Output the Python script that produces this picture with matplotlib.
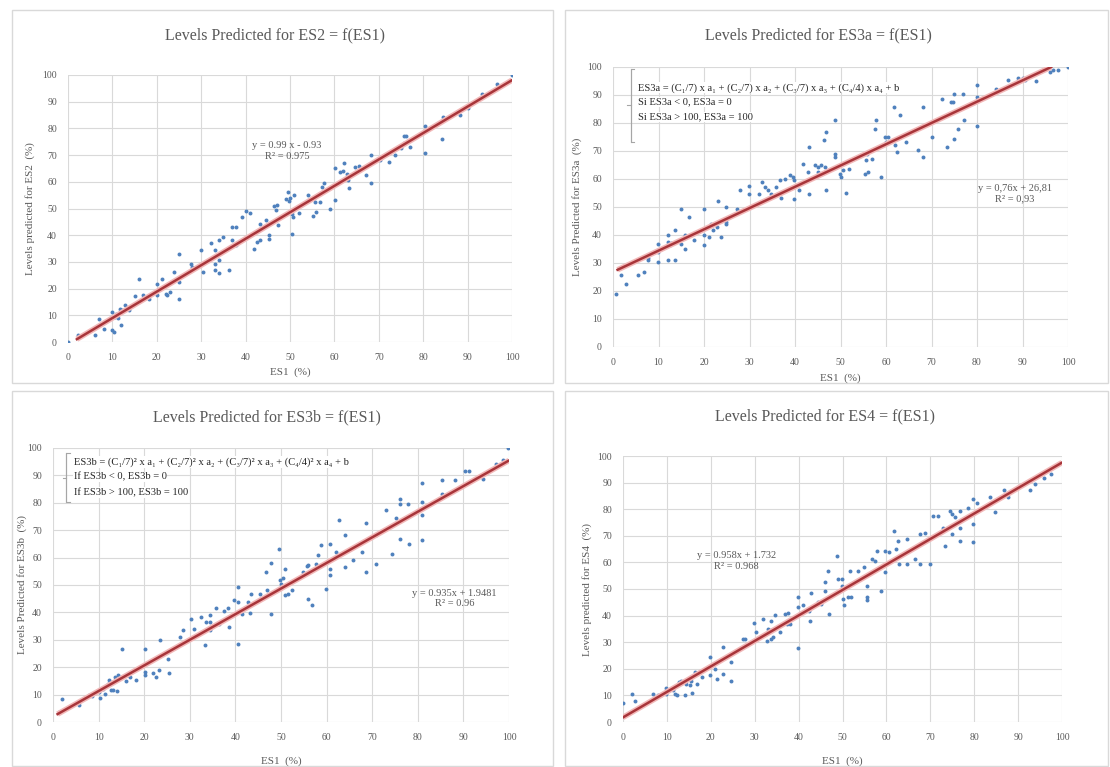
import matplotlib
matplotlib.use("Agg")
from matplotlib import pyplot as plt
from matplotlib.patches import Rectangle

plt.rcParams['font.family'] = ['Liberation Serif', 'DejaVu Serif']

# ---- data ----
es2_x = [0, 2.2, 6, 6.9, 8, 10, 10, 10.3, 10.5, 10.8, 11.2, 11.8, 12.2, 12, 12.9, 13.7, 15, 16.1,
         17, 18.2, 20, 20, 21.2, 22, 22.3, 23, 23.8, 24.9, 25, 25, 27.8, 28, 30, 30.5, 32.2, 33.2,
         33.2, 33.2, 34.1, 34.1, 34.1, 35, 36.2, 36.9, 37.9, 36.9, 37.9, 39.2, 40.2, 40.9, 40.3, 42,
         42.6, 43.2, 43.2, 44.5, 45.2, 45.2, 46.5, 47, 46.9, 47.2, 49.2, 50.1, 50.8, 49.5, 49.7, 50.5,
         50.7, 50.5, 52, 54, 55.1, 55.3, 55.7, 55.9, 56.8, 57.2, 57.7, 59.1, 60.2, 60.2, 61.3, 62,
         62.2, 62.8, 63, 63.2, 64.7, 65.5, 67.2, 68.2, 68.2, 70.3, 72.2, 73.7, 74.5, 75.1, 75.6, 76.2,
         75.6, 77.1, 80.3, 80.3, 84.2, 84.4, 88.4, 90.2, 93.2, 96.6, 98.1, 100]
es2_y = [0, 2.75, 2.75, 8.75, 5, 11.25, 4.4, 3.75, 9.5, 10.5, 9, 12.5, 11.9, 6.25, 13.75, 11.9, 17.25,
         23.75, 17.5, 16.25, 21.9, 17.5, 23.75, 18, 17.5, 18.75, 26.25, 33.1, 16.25, 22.5, 29.4, 28.1,
         34.6, 26.25, 37.1, 29.4, 34.4, 26.9, 26, 38.1, 30.6, 39.4, 26.9, 43.1, 43.1, 38.1, 36.25, 46.9,
         49.1, 48.4, 39.4, 35, 37.5, 38.1, 44.1, 45.6, 40, 38.75, 50.9, 51.25, 49.4, 43.75, 53.4, 53.75,
         55, 56.25, 52.75, 48.1, 46.9, 40.6, 48.4, 55, 47.1, 53.75, 52.5, 48.75, 52.5, 58.1, 59.6, 50,
         53.1, 65, 63.75, 64, 67.1, 63.1, 60.6, 57.5, 65.6, 65.9, 62.5, 59.6, 70, 68.1, 67.5, 70, 73.1,
         72.5, 77.25, 77.25, 74.4, 73.1, 80.9, 70.9, 75.9, 84.4, 85, 87.5, 92.75, 96.6, 96.6, 100]

es3a_x = [0.7, 1.8, 2.9, 5.6, 6.8, 7.7, 7.8, 9.9, 9.9, 9.9, 10.5, 11.4, 12, 12.5, 12.7, 12, 12.1, 13.7,
          13.7, 14.9, 15, 15.8, 15.9, 16.6, 17.8, 19.9, 19.9, 20, 21, 21.6, 22, 23.1, 22.9, 23.8, 24.9,
          24.9, 24.9, 27.3, 28, 29.9, 29.9, 32, 32.7, 33.3, 34, 34.7, 35.9, 37, 36.8, 37.7, 39, 39.6,
          39.8, 39.8, 40.8, 41.8, 43, 42.9, 43.1, 44.3, 45, 45.8, 46.5, 45, 46.4, 46.9, 46.9, 48.9, 48.9,
          48.9, 49.8, 50.2, 50.5, 51.1, 51.8, 54.6, 55.3, 56, 55.7, 55.9, 57, 57.5, 57.9, 59, 59.7, 60.4,
          60.1, 61.8, 61.9, 62.5, 63, 64.5, 67, 68.1, 68.1, 70, 72.2, 73.5, 74.2, 74.7, 74.9, 75, 75.9,
          76.9, 77.1, 80, 80, 80, 84.2, 86.8, 89, 90.1, 90.5, 93, 96, 96.7, 97.8, 100]
es3a_y = [19, 25.6, 22.4, 25.6, 26.8, 31, 31.9, 36.9, 33.9, 30.4, 35.1, 35.7, 37.5, 36.3, 37.1, 39.9, 31,
          41.7, 31, 49.4, 36.9, 35.1, 39.9, 46.4, 38.3, 49.4, 36.3, 39.9, 39.3, 43.8, 41.7, 52.1, 42.9,
          39.3, 50, 44.6, 43.8, 49.4, 56, 57.4, 54.8, 54.8, 58.9, 57.1, 56, 54.8, 57.1, 53.3, 59.5, 60.1,
          61.3, 60.7, 59.5, 53, 56, 65.5, 71.4, 62.5, 54.8, 64.9, 64.3, 64.9, 64.3, 62.5, 73.8, 76.8, 56,
          81, 67.9, 68.8, 61.9, 60.7, 63.1, 55, 63.7, 68.5, 61.9, 62.5, 66.7, 69, 67.3, 78, 81, 60.7, 75,
          75, 73.2, 85.7, 72, 69.6, 82.7, 73.2, 70.2, 85.7, 67.9, 75, 88.7, 71.4, 87.5, 87.5, 90.5, 74.4,
          78, 90.5, 81, 93.5, 89.3, 78.8, 92.3, 95.2, 96.2, 96.2, 95.2, 95, 98.2, 98.8, 98.8, 100]

es3b_x = [1.3, 2, 5.8, 8, 8.6, 10.1, 10.2, 11, 11.3, 12.1, 12.3, 12.8, 13.2, 13.5, 14.3, 14, 15.2, 15,
          15.9, 16.4, 16.8, 18.3, 20.2, 20.2, 20.2, 21.9, 22.5, 23.2, 23.4, 25.2, 25.4, 27.9, 28.4, 30.3,
          30.9, 32.4, 33.4, 33.5, 34.4, 34.5, 34.4, 35.7, 36.5, 37.6, 38.4, 38.6, 39.8, 40.6, 40.5, 40.5,
          41.5, 42.8, 43.5, 43.1, 45.3, 46.8, 46.9, 47.7, 47.7, 49.6, 49.7, 50.1, 50.4, 50.8, 50.8, 51.5,
          52.5, 54.8, 55.6, 56, 55.9, 56.7, 57.7, 58.1, 58.8, 59.8, 60.7, 60.7, 60.7, 62.1, 62.8, 64, 64,
          65.8, 67.8, 68.7, 68.7, 70.9, 70.9, 73.1, 74.4, 75.3, 76, 76, 76, 77.9, 78.1, 81, 81, 81, 81,
          85.2, 85.2, 88.1, 90.3, 91.2, 94.3, 97.2, 98.7, 99.8]
es3b_y = [3.6, 8.5, 6.1, 9.7, 9.4, 10.9, 8.9, 12.2, 10.3, 14, 15.2, 11.6, 11.8, 16.4, 17, 11.3, 26.5,
          16.4, 14.8, 17, 16.4, 15.2, 26.5, 18.2, 17, 17.9, 16.4, 18.9, 29.8, 23.1, 17.9, 31, 33.5, 37.7,
          34.1, 38.3, 28.2, 36.5, 36.5, 38.9, 33.5, 41.7, 35.9, 40.6, 41.7, 34.7, 44.6, 43.8, 49.3, 28.6,
          39.5, 43.8, 46.8, 39.8, 46.8, 54.7, 48.1, 58, 39.5, 63.3, 51.7, 50.5, 52.7, 56, 46.2, 46.8, 48.1,
          54.7, 56.8, 57.2, 45, 42.6, 57.8, 60.8, 64.5, 48.7, 65.1, 56, 53.5, 62, 73.6, 68.1, 56.6, 59, 62,
          72.6, 54.7, 68.1, 57.8, 77.3, 61.4, 74.3, 81.5, 79.7, 66.9, 79.7, 65, 87.3, 80.3, 75.4, 66.3,
          88.2, 83.3, 88.2, 91.6, 91.6, 88.8, 94.3, 95.5, 100]

es4_x = [0, 2.1, 2.8, 6.8, 8, 8.7, 9.9, 10.3, 9.7, 11.4, 11.8, 12.2, 12.7, 13.3, 14.1, 14.4, 15.2, 15.6,
         15.7, 16.3, 16.9, 17.9, 19.8, 19.8, 20.9, 21.4, 22.7, 22.7, 24.7, 24.7, 27.4, 27.9, 29.9, 30.3,
         31.9, 32.9, 33.8, 34.2, 33.1, 33.8, 33.8, 34.6, 35.7, 36.9, 37.6, 37.3, 38, 39.9, 39.9, 39.9,
         41.1, 42.4, 42.6, 42.8, 44.5, 45.2, 46, 46, 46.8, 46.9, 48.7, 48.9, 49.8, 49.8, 50.2, 51.3, 51.9,
         50.3, 51.7, 53.6, 54.8, 55.5, 55.5, 55.5, 56.7, 57.4, 57.8, 58.8, 59.7, 60.5, 59.7, 61.8, 62.3,
         62.7, 62.9, 64.6, 64.6, 66.5, 67.7, 68.7, 67.7, 69.9, 70.7, 71.7, 73, 73.4, 74.5, 74.9, 74.9,
         75.7, 76.8, 76.8, 76.8, 78.7, 79.8, 80.6, 79.8, 79.8, 83.7, 84.8, 86.7, 87.5, 87.8, 92.8, 93.9,
         95.8, 97.6]
es4_y = [7.1, 10.6, 7.9, 10.6, 10, 10, 12.9, 11.9, 10.6, 12.1, 10.6, 10, 15, 15.6, 10, 14.4, 13.8, 15.6,
         10.9, 18.8, 14.4, 16.9, 24.4, 17.5, 20, 16.3, 28.1, 18.1, 22.5, 15.6, 31.3, 31.3, 37.1, 33.8,
         38.8, 30.6, 31.3, 31.9, 35, 34.6, 38.1, 40.4, 33.8, 40.6, 40.9, 36.9, 36.9, 46.9, 43.4, 27.9,
         43.8, 41.9, 38.1, 48.4, 45, 44.4, 49.4, 52.5, 56.9, 40.6, 62.5, 53.8, 53.8, 51.3, 46.3, 46.9,
         46.9, 43.8, 56.9, 56.9, 58.4, 51.3, 46.9, 45.9, 61.3, 60.6, 64.4, 49.4, 64.4, 63.8, 56.3, 71.9,
         65, 68.1, 59.4, 68.8, 59.4, 61.3, 70.6, 70.9, 59.4, 59.4, 77.3, 77.3, 73.1, 66.3, 79.4, 78.1,
         70.6, 76.9, 79.4, 73.1, 68.1, 80.6, 83.8, 82.5, 74.4, 67.8, 84.6, 78.8, 87.1, 85.6, 84.4, 87.1,
         89.4, 91.9, 93.4]

titles = ["Levels Predicted for ES2 = f(ES1)", "Levels Predicted for ES3a = f(ES1)",
          "Levels Predicted for ES3b = f(ES1)", "Levels Predicted for ES4 = f(ES1)"]
ylabels = ["Levels predicted for ES2  (%)", "Levels Predicted for ES3a  (%)",
           "Levels Predicted for ES3b  (%)", "Levels predicted for ES4  (%)"]
slopes = [0.99, 0.76, 0.935, 0.958]
intercepts = [-0.93, 26.81, 1.9481, 1.732]
fit_range = [(2, 100), (1, 96.3), (1, 100), (0, 100)]
eq_labels = ["y = 0.99 x - 0.93\nR² = 0.975", "y = 0,76x + 26,81\nR² = 0,93",
             "y = 0.935x + 1.9481\nR² = 0.96", "y = 0.958x + 1.732\nR² = 0.968"]
eq_pos = [(49.3, 71.5), (88.3, 54.8), (88.1, 45), (25.9, 60.6)]
ticks = list(range(0, 101, 10))

xs = [es2_x, es3a_x, es3b_x, es4_x]
ys = [es2_y, es3a_y, es3b_y, es4_y]

# ---- layout ----
W, H = 1110, 767
fig = plt.figure(figsize=(W / 100, H / 100), dpi=100)

def px_rect(l, t, r, b):
    return [l / W, 1 - b / H, (r - l) / W, (b - t) / H]

axes_px = [(68, 75, 512, 342), (613, 67, 1068, 347), (53, 448, 509, 722), (623, 456, 1062, 722)]
box_px = [(12, 10, 553, 383), (565, 10, 1108, 383), (12, 391, 553, 766), (565, 391, 1108, 766)]
title_px = [(275, 35), (818, 35), (267, 417), (825, 416)]
xlab_px = [372, 378, 761, 761]
ylab_px = [30, 577, 22, 587]

grey = "#595959"
for i in range(4):
    l, t, r, b = box_px[i]
    fig.add_artist(Rectangle((l / W, 1 - b / H), (r - l) / W, (b - t) / H, transform=fig.transFigure,
                             fill=False, edgecolor="#D9D9D9", linewidth=1))
    ax = fig.add_axes(px_rect(*axes_px[i]))
    ax.scatter(xs[i], ys[i], s=8, color="#4F81BD", zorder=3, linewidths=0)
    x0, x1 = fit_range[i]
    ax.plot([x0, x1], [slopes[i] * x0 + intercepts[i], slopes[i] * x1 + intercepts[i]],
            color="#F2B8B8", linewidth=4, zorder=3, solid_capstyle="butt")
    ax.plot([x0, x1], [slopes[i] * x0 + intercepts[i], slopes[i] * x1 + intercepts[i]],
            color="#A8353A", linewidth=1.8, zorder=4)
    ax.set_xlim(0, 100)
    ax.set_ylim(0, 100)
    ax.set_xticks(ticks)
    ax.set_yticks(ticks)
    ax.grid(True, color="#D9D9D9", linewidth=0.8)
    ax.set_axisbelow(True)
    for s in ax.spines.values():
        s.set_visible(False)
    ax.tick_params(length=0, labelsize=7, labelcolor=grey, pad=8)
    ax.text(*eq_pos[i], eq_labels[i], ha="center", va="center", fontsize=7.5, color=grey, zorder=5)
    fig.text(title_px[i][0] / W, 1 - title_px[i][1] / H, titles[i], ha="center", va="center",
             fontsize=11.5, color=grey)
    cx = (axes_px[i][0] + axes_px[i][2]) / 2
    cy = (axes_px[i][1] + axes_px[i][3]) / 2
    fig.text(cx / W, 1 - xlab_px[i] / H, "ES1  (%)", ha="center", va="center", fontsize=8, color=grey)
    fig.text(ylab_px[i] / W, 1 - cy / H, ylabels[i], ha="center", va="center", rotation=90,
             fontsize=8, color=grey)

# formula boxes on the ES3a and ES3b panels
formula_a = ["ES3a = (C₁/7) x a₁ + (C₂/7) x a₂ + (C₃/7) x a₃ + (C₄/4) x a₄ + b",
             "Si ES3a < 0, ES3a = 0", "Si ES3a > 100, ES3a = 100"]
formula_b = ["ES3b = (C₁/7)² x a₁ + (C₂/7)² x a₂ + (C₃/7)² x a₃ + (C₄/4)² x a₄ + b",
             "If ES3b < 0, ES3b = 0", "If ES3b > 100, ES3b = 100"]
ax_a = fig.axes[1]
ax_b = fig.axes[2]
for ax, lines, x_txt, y_lines, x_br, y_br in [
        (ax_a, formula_a, 5.6, [92.6, 87.5, 82.1], 3.9, (73.2, 99.4)),
        (ax_b, formula_b, 4.5, [94.9, 89.4, 83.9], 2.9, (80.3, 98.0))]:
    for txt, yy in zip(lines, y_lines):
        ax.text(x_txt, yy, txt, ha="left", va="center", fontsize=7.6, color="#262626", zorder=5,
                bbox=dict(facecolor="white", edgecolor="none", pad=0.5))
    ax.plot([x_br, x_br], y_br, color="#A6A6A6", linewidth=0.8, zorder=5)
    ax.plot([x_br + 0.8, x_br, x_br, x_br + 0.8], [y_br[0], y_br[0], y_br[1], y_br[1]],
            color="#A6A6A6", linewidth=0.8, zorder=5)
    ym = sum(y_br) / 2
    ax.plot([x_br - 0.8, x_br], [ym, ym], color="#A6A6A6", linewidth=0.8, zorder=5)

plt.savefig("out.png", dpi=100)
